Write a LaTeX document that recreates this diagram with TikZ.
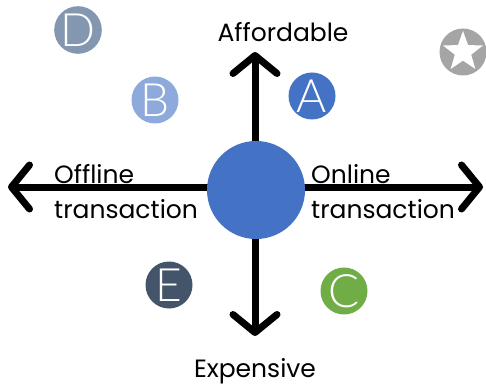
\documentclass[tikz,border=0pt]{standalone}
\usepackage{fontspec}
\setmainfont{Poppins}
\newfontfamily\letterfont{Lato Light}
\usetikzlibrary{arrows.meta}
\definecolor{mainblue}{HTML}{4472C4}
\definecolor{lightblue}{HTML}{8EA9DB}
\definecolor{slateblue}{HTML}{8497B0}
\definecolor{darkslate}{HTML}{44546A}
\definecolor{leafgreen}{HTML}{70AD47}
\definecolor{midgray}{HTML}{A5A5A5}
\tikzset{
  axis/.style={line width=7pt, line cap=round,
    {Straight Barb[length=18pt,width=44pt,line width=7pt,round]}-{Straight Barb[length=18pt,width=44pt,line width=7pt,round]}},
  badge/.style={circle, minimum size=47pt, inner sep=0pt, fill=#1, text=white,
    font=\letterfont\fontsize{46}{46}\selectfont},
  label/.style={font=\fontsize{25}{35}\selectfont, text=black, inner sep=0pt},
}
\begin{document}
\begin{tikzpicture}[x=1pt,y=-1pt]
  \useasboundingbox (0,0) rectangle (486,390);
  % axis end points
  \coordinate (west) at (8,187);
  \coordinate (east) at (483,187);
  \coordinate (north) at (255,52);
  \coordinate (south) at (255,336);
  \draw[axis] (west) -- (east);
  \draw[axis] (south) -- (north);
  % centre disc
  \node[circle, fill=mainblue, minimum size=98pt, inner sep=0pt] (hub) at (256,190) {};
  % axis labels
  \node[label] (afford) at (283,32) {Affordable};
  \node[label] (expens) at (255,371) {Expensive};
  \node[label, anchor=west, align=left] (offline) at (54,192) {Offline\\transaction};
  \node[label, anchor=west, align=left] (online) at (311,192) {Online\\transaction};
  % lettered badges
  \node[badge=slateblue] (d) at (78,30) {D};
  \node[badge=lightblue] (b) at (155,100) {B};
  \node[badge=mainblue] (a) at (312,96) {A};
  \node[badge=darkslate] (e) at (169,285) {E};
  \node[badge=leafgreen] (c) at (344,291) {C};
  \node[badge=midgray] (star) at (463,52) {};
  % white five-pointed star in the grey badge
  \begin{scope}[shift={(star.center)}, x=1pt, y=1pt]
    \fill[white] (90:21)
      \foreach \k in {0,...,4} {
        -- (126+72*\k:8.6) -- (162+72*\k:21)
      } -- cycle;
  \end{scope}
\end{tikzpicture}
\end{document}
